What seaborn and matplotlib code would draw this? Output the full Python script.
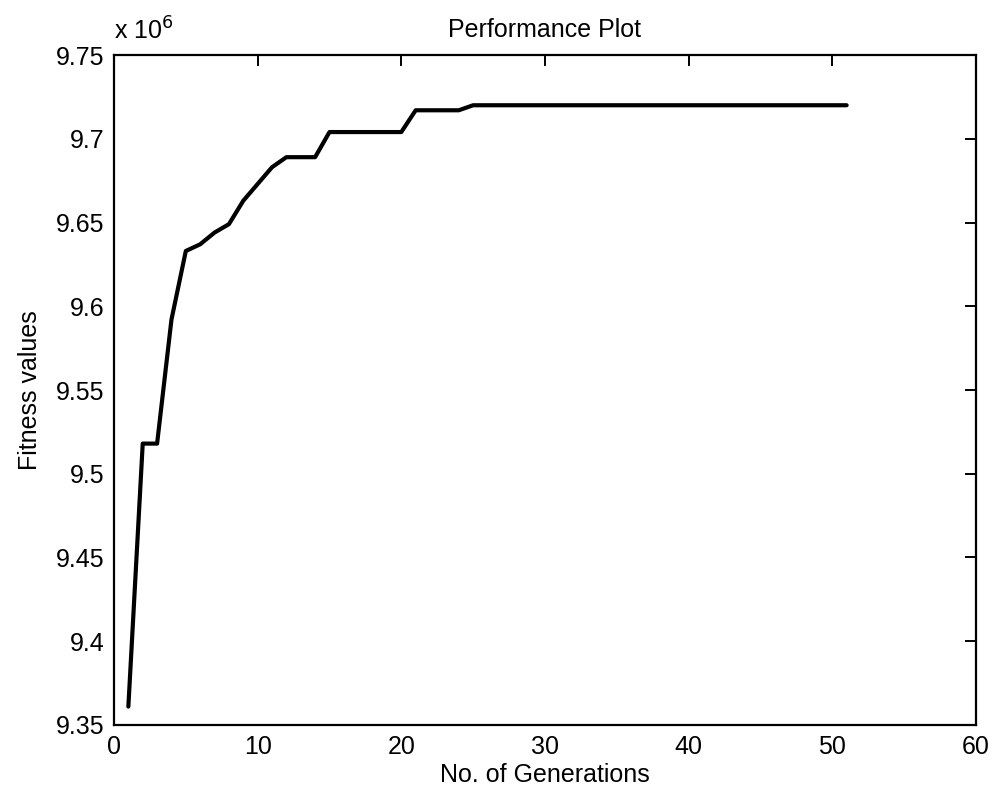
import numpy as np
import pandas as pd
import matplotlib
matplotlib.use('Agg')
import matplotlib.pyplot as plt
import matplotlib.ticker as mticker
import seaborn as sns

# номера поколений и значения фитнес-функции (x 10^6)
generations = list(range(1, 52))
fitness_m = [9.361, 9.518, 9.518, 9.592, 9.633, 9.637, 9.644, 9.649, 9.663, 9.673,
             9.683, 9.689, 9.689, 9.689, 9.704, 9.704, 9.704, 9.704, 9.704, 9.704,
             9.717, 9.717, 9.717, 9.717, 9.720] + [9.720] * 26

x_ticks = [0, 10, 20, 30, 40, 50, 60]
y_ticks = [9.35, 9.4, 9.45, 9.5, 9.55, 9.6, 9.65, 9.7, 9.75]

df = pd.DataFrame({'generation': generations,
                   'fitness': np.array(fitness_m) * 1e6})

sns.set_style('white')
plt.rcParams['font.family'] = ['Liberation Sans', 'DejaVu Sans']
plt.rcParams['text.color'] = 'black'
plt.rcParams['axes.labelcolor'] = 'black'

fig = plt.figure(figsize=(9.93, 7.96), dpi=100)
# оси как в матлабе
ax = fig.add_axes([0.1148, 0.0892, 0.868, 0.8417])

sns.lineplot(data=df, x='generation', y='fitness', color='black', linewidth=3.0, ax=ax)

ax.set_xlim(0, 60)
ax.set_ylim(9.35e6, 9.75e6)
ax.set_xticks(x_ticks)
ax.set_yticks([v * 1e6 for v in y_ticks])
ax.yaxis.set_major_formatter(mticker.FuncFormatter(lambda v, p: '%g' % round(v / 1e6, 4)))

ax.tick_params(direction='in', length=8, width=1.4, top=True, right=True,
               labelsize=18, colors='black', pad=7)
for s in ax.spines.values():
    s.set_color('black')
    s.set_linewidth(1.6)

ax.set_title('Performance Plot', fontsize=18, pad=13, color='black')
ax.set_xlabel('No. of Generations', fontsize=18, labelpad=3)
ax.set_ylabel('Fitness values', fontsize=18, labelpad=10)
ax.text(0.0, 1.015, r'x 10$^{6}$', transform=ax.transAxes, fontsize=18,
        va='bottom', ha='left', color='black')

fig.savefig('out.png', dpi=100)
